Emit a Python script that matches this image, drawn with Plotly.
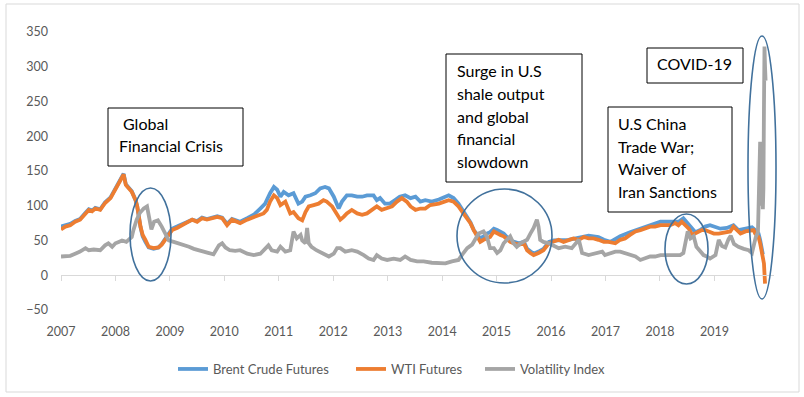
import plotly.graph_objects as go

# ---------------- data ----------------
tick_years = [2007, 2008, 2009, 2010, 2011, 2012, 2013, 2014, 2015, 2016, 2017, 2018, 2019]
tick_labels = ["2007", "2008", "2009", "2010", "2011", "2012", "2013",
               "2014", "2015", "2016", "2017", "2018", "2019"]

brent_years = [
    2007.00, 2007.08, 2007.17, 2007.26, 2007.35, 2007.45, 2007.51, 2007.57, 2007.63, 2007.72,
    2007.81, 2007.91, 2008.00, 2008.06, 2008.12, 2008.15, 2008.19, 2008.24, 2008.30, 2008.37,
    2008.40, 2008.46, 2008.50, 2008.55, 2008.61, 2008.70, 2008.79, 2008.85, 2008.92, 2008.98,
    2009.04, 2009.13, 2009.22, 2009.31, 2009.41, 2009.50, 2009.59, 2009.68, 2009.77, 2009.87,
    2009.96, 2010.05, 2010.14, 2010.23, 2010.29, 2010.42, 2010.54, 2010.66, 2010.75, 2010.84,
    2010.91, 2010.97, 2011.03, 2011.09, 2011.18, 2011.27, 2011.36, 2011.43, 2011.49, 2011.58,
    2011.67, 2011.76, 2011.85, 2011.92, 2012.01, 2012.10, 2012.16, 2012.25, 2012.34, 2012.44,
    2012.53, 2012.62, 2012.74, 2012.80, 2012.86, 2012.95, 2013.04, 2013.13, 2013.22, 2013.32,
    2013.42, 2013.51, 2013.60, 2013.69, 2013.81, 2013.94, 2014.06, 2014.12, 2014.21, 2014.30,
    2014.39, 2014.46, 2014.52, 2014.58, 2014.64, 2014.70, 2014.76, 2014.82, 2014.88, 2014.95,
    2015.01, 2015.07, 2015.13, 2015.19, 2015.25, 2015.41, 2015.50, 2015.56, 2015.62, 2015.68,
    2015.77, 2015.86, 2015.96, 2016.05, 2016.32, 2016.60, 2016.69, 2016.87, 2016.97, 2017.09,
    2017.27, 2017.45, 2017.64, 2017.82, 2018.01, 2018.19, 2018.34, 2018.43, 2018.48, 2018.56,
    2018.65, 2018.74, 2018.83, 2018.92, 2019.02, 2019.11, 2019.23, 2019.35, 2019.44, 2019.54,
    2019.63, 2019.69, 2019.75, 2019.81, 2019.84, 2019.87, 2019.89,
]
brent_values = [
    70, 72, 74, 78, 81, 90, 95, 93, 97, 95,
    105, 112, 124, 133, 140, 146, 131, 126, 121, 108,
    99, 69, 56, 48, 40, 38, 40, 45, 53, 60,
    67, 70, 73, 76, 80, 78, 83, 81, 83, 85,
    83, 74, 81, 79, 77, 82, 87, 96, 103, 118,
    127, 123, 113, 120, 115, 118, 103, 106, 113, 115,
    118, 125, 127, 125, 113, 96, 106, 115, 115, 113,
    113, 115, 115, 108, 111, 103, 103, 108, 113, 115,
    111, 113, 106, 108, 106, 109, 113, 115, 111, 103,
    92, 84, 76, 65, 58, 53, 56, 60, 62, 67,
    65, 63, 60, 55, 50, 46, 48, 38, 34, 31,
    34, 38, 48, 50, 51, 56, 57, 55, 51, 48,
    56, 62, 67, 72, 77, 77, 77, 82, 77, 70,
    62, 65, 70, 72, 70, 67, 68, 72, 65, 67,
    68, 69, 65, 60, 51, 36, 30,
]

wti_years = [
    2007.00, 2007.08, 2007.17, 2007.26, 2007.35, 2007.45, 2007.51, 2007.57, 2007.63, 2007.72,
    2007.81, 2007.91, 2008.00, 2008.06, 2008.12, 2008.15, 2008.19, 2008.24, 2008.30, 2008.37,
    2008.40, 2008.46, 2008.50, 2008.55, 2008.61, 2008.70, 2008.79, 2008.85, 2008.92, 2008.98,
    2009.04, 2009.13, 2009.22, 2009.31, 2009.41, 2009.50, 2009.59, 2009.68, 2009.77, 2009.87,
    2009.96, 2010.05, 2010.14, 2010.23, 2010.29, 2010.42, 2010.54, 2010.63, 2010.72, 2010.78,
    2010.84, 2010.91, 2010.97, 2011.03, 2011.12, 2011.21, 2011.27, 2011.36, 2011.43, 2011.49,
    2011.55, 2011.64, 2011.73, 2011.82, 2011.88, 2011.98, 2012.07, 2012.13, 2012.19, 2012.25,
    2012.34, 2012.44, 2012.53, 2012.62, 2012.71, 2012.80, 2012.89, 2012.99, 2013.08, 2013.17,
    2013.26, 2013.35, 2013.42, 2013.51, 2013.60, 2013.69, 2013.78, 2013.94, 2014.06, 2014.12,
    2014.21, 2014.30, 2014.39, 2014.46, 2014.52, 2014.58, 2014.64, 2014.70, 2014.76, 2014.82,
    2014.88, 2014.95, 2015.01, 2015.07, 2015.13, 2015.19, 2015.25, 2015.31, 2015.41, 2015.50,
    2015.56, 2015.62, 2015.68, 2015.77, 2015.86, 2015.96, 2016.05, 2016.14, 2016.23, 2016.32,
    2016.41, 2016.51, 2016.60, 2016.69, 2016.78, 2016.87, 2016.97, 2017.06, 2017.18, 2017.27,
    2017.36, 2017.45, 2017.55, 2017.64, 2017.73, 2017.82, 2017.91, 2018.01, 2018.10, 2018.19,
    2018.28, 2018.34, 2018.40, 2018.46, 2018.53, 2018.59, 2018.65, 2018.71, 2018.77, 2018.83,
    2018.89, 2018.99, 2019.08, 2019.20, 2019.29, 2019.35, 2019.41, 2019.48, 2019.57, 2019.66,
    2019.72, 2019.75, 2019.81, 2019.84, 2019.87, 2019.89, 2019.91, 2019.93,
]
wti_values = [
    66, 70, 72, 77, 80, 89, 94, 92, 96, 94,
    104, 111, 123, 132, 139, 145, 130, 125, 120, 108,
    99, 70, 58, 51, 41, 39, 40, 44, 51, 58,
    65, 68, 72, 75, 80, 77, 82, 80, 82, 84,
    82, 72, 80, 77, 75, 80, 84, 87, 89, 94,
    106, 115, 111, 101, 106, 89, 91, 82, 79, 91,
    99, 101, 103, 108, 106, 99, 87, 80, 84, 89,
    94, 89, 87, 89, 94, 99, 94, 96, 99, 106,
    111, 106, 99, 94, 96, 96, 101, 103, 106, 108,
    106, 99, 89, 82, 75, 65, 56, 48, 51, 53,
    55, 63, 60, 58, 56, 51, 48, 46, 44, 46,
    36, 32, 29, 32, 36, 46, 48, 51, 48, 51,
    53, 51, 55, 53, 53, 51, 48, 48, 46, 51,
    53, 58, 63, 65, 68, 70, 70, 72, 72, 72,
    75, 72, 77, 72, 67, 58, 60, 63, 65, 65,
    63, 60, 60, 62, 63, 70, 65, 60, 63, 65,
    65, 60, 55, 46, 34, 22, 17, -12,
]

vix_years = [
    2007.00, 2007.08, 2007.17, 2007.26, 2007.35, 2007.45, 2007.51, 2007.60, 2007.72, 2007.81,
    2007.87, 2007.94, 2008.00, 2008.06, 2008.12, 2008.20, 2008.26, 2008.30, 2008.33, 2008.39,
    2008.45, 2008.52, 2008.58, 2008.63, 2008.66, 2008.71, 2008.78, 2008.85, 2008.91, 2008.98,
    2009.07, 2009.16, 2009.25, 2009.35, 2009.44, 2009.53, 2009.62, 2009.71, 2009.80, 2009.90,
    2009.96, 2010.02, 2010.10, 2010.20, 2010.29, 2010.42, 2010.54, 2010.66, 2010.75, 2010.81,
    2010.87, 2010.97, 2011.03, 2011.12, 2011.21, 2011.24, 2011.27, 2011.33, 2011.40, 2011.43,
    2011.49, 2011.52, 2011.55, 2011.60, 2011.69, 2011.82, 2011.92, 2012.01, 2012.07, 2012.13,
    2012.22, 2012.34, 2012.44, 2012.56, 2012.65, 2012.74, 2012.80, 2012.89, 2012.99, 2013.11,
    2013.23, 2013.32, 2013.42, 2013.54, 2013.66, 2013.81, 2013.94, 2014.06, 2014.18, 2014.30,
    2014.39, 2014.46, 2014.55, 2014.61, 2014.67, 2014.76, 2014.82, 2014.88, 2014.95, 2015.01,
    2015.07, 2015.13, 2015.19, 2015.25, 2015.31, 2015.37, 2015.44, 2015.50, 2015.56, 2015.62,
    2015.68, 2015.74, 2015.77, 2015.80, 2015.86, 2015.96, 2016.05, 2016.14, 2016.26, 2016.38,
    2016.51, 2016.57, 2016.69, 2016.81, 2016.94, 2016.99, 2017.09, 2017.18, 2017.27, 2017.36,
    2017.45, 2017.55, 2017.64, 2017.73, 2017.82, 2017.91, 2018.01, 2018.19, 2018.37, 2018.43,
    2018.48, 2018.51, 2018.56, 2018.62, 2018.67, 2018.73, 2018.80, 2018.86, 2018.92, 2019.02,
    2019.08, 2019.14, 2019.20, 2019.26, 2019.30, 2019.36, 2019.44, 2019.54, 2019.63, 2019.69,
    2019.73, 2019.76, 2019.80, 2019.82, 2019.83, 2019.84, 2019.85, 2019.86, 2019.87, 2019.88,
    2019.89, 2019.90, 2019.91, 2019.92, 2019.93, 2019.94,
]
vix_values = [
    27, 27, 28, 31, 34, 39, 36, 37, 36, 43,
    46, 41, 46, 48, 50, 48, 53, 55, 65, 80,
    90, 96, 99, 82, 66, 77, 79, 70, 60, 50,
    48, 46, 43, 41, 38, 36, 34, 31, 30, 43,
    46, 40, 36, 35, 36, 31, 29, 31, 39, 43,
    36, 34, 41, 34, 36, 54, 63, 53, 58, 50,
    46, 68, 46, 41, 36, 31, 27, 31, 39, 39,
    34, 36, 34, 29, 24, 22, 29, 24, 22, 24,
    22, 27, 22, 20, 20, 18, 17, 17, 20, 22,
    32, 39, 44, 53, 60, 63, 56, 39, 39, 32,
    36, 46, 51, 56, 46, 41, 46, 48, 51, 60,
    68, 80, 70, 51, 48, 46, 43, 39, 41, 39,
    51, 32, 29, 31, 34, 29, 32, 34, 34, 32,
    29, 27, 22, 24, 27, 27, 29, 29, 29, 32,
    51, 63, 53, 56, 41, 36, 29, 27, 24, 29,
    51, 42, 40, 52, 57, 45, 41, 38, 36, 32,
    45, 55, 62, 110, 160, 192, 140, 180, 100, 130,
    95, 125, 240, 329, 300, 280,
]

series_names = ["Brent Crude Futures", "WTI Futures", "Volatility Index"]
series_colors = ["#5B9BD5", "#ED7D31", "#A5A5A5"]

box_texts = {
    "gfc": ["Global", "Financial Crisis"],
    "shale": ["Surge in U.S", "shale output", "and global", "financial", "slowdown"],
    "covid": ["COVID-19"],
    "trade": ["U.S China", "Trade War;", "Waiver of", "Iran Sanctions"],
}

# ---------------- layout geometry (pixels of the 804x397 page) ----------------
W, H = 804, 397
ML, MR, MT, MB = 61, 30, 32, 87
PW = W - ML - MR
PH = H - MT - MB
Y_RANGE = [-50, 350]
PX_PER_YEAR = 54.45
X_RANGE = [2007, 2007 + PW / PX_PER_YEAR]


def px(x):
    return (x - ML) / PW


def py(y):
    return (H - MB - y) / PH


FONT = "Lato"
GREY_TXT = "#595959"

fig = go.Figure()
legend_ids = ["legend", "legend2", "legend3"]
for name, xs, ys, col, lg in zip(series_names,
                                 [brent_years, wti_years, vix_years],
                                 [brent_values, wti_values, vix_values],
                                 series_colors, legend_ids):
    fig.add_trace(go.Scatter(x=xs, y=ys, mode="lines", name=name, legend=lg,
                             line=dict(color=col, width=3.8)))

# invisible helper trace so the zero-level axis (ticks at y=0) is drawn
fig.add_trace(go.Scatter(x=[tick_years[0], tick_years[-1]], y=[0, 0], xaxis="x2",
                         mode="lines", line=dict(width=0, color="rgba(0,0,0,0)"),
                         hoverinfo="skip", showlegend=False))

shapes = []
# outer chart border
shapes.append(dict(type="rect", xref="paper", yref="paper",
                   x0=px(6), x1=px(799), y0=py(392), y1=py(4),
                   line=dict(color="#D9D9D9", width=1), layer="below"))
# ellipses
ELL = "#41719C"
for (x0, x1, y0, y1) in [(130, 171, 188, 281), (457, 552, 189, 283),
                         (665, 708, 214, 284), (748, 776, 36, 299)]:
    shapes.append(dict(type="circle", xref="paper", yref="paper",
                       x0=px(x0), x1=px(x1), y0=py(y1), y1=py(y0),
                       line=dict(color=ELL, width=1.6), layer="above"))
# text boxes
boxes = {"gfc": (108, 243, 108, 166), "shale": (446, 582, 54, 182),
         "covid": (647, 743, 48, 83), "trade": (608, 732, 107, 212)}
for key, (x0, x1, y0, y1) in boxes.items():
    shapes.append(dict(type="rect", xref="paper", yref="paper",
                       x0=px(x0), x1=px(x1), y0=py(y1), y1=py(y0),
                       fillcolor="white", line=dict(color="black", width=1), layer="above"))

annotations = []
text_pos = {"gfc": (117, [123.5, 145.5], [4, 0]),
            "shale": (455, [70, 93, 116, 138.5, 161], [0] * 5),
            "covid": (655, [64], [0]),
            "trade": (616, [123.5, 146, 168.5, 191.5], [0] * 4)}
for key, (tx, ys, dxs) in text_pos.items():
    for line, yy, dx in zip(box_texts[key], ys, dxs):
        annotations.append(dict(text=line, xref="paper", yref="paper",
                                x=px(tx + dx), y=py(yy), xanchor="left", yanchor="middle",
                                showarrow=False, font=dict(family=FONT, size=16, color="black")))

legend_style = dict(orientation="h", yanchor="middle", y=py(369), xanchor="left",
                    font=dict(family=FONT, size=13, color=GREY_TXT), itemwidth=30,
                    bgcolor="rgba(0,0,0,0)", borderwidth=0)

fig.update_layout(
    width=W, height=H,
    margin=dict(l=ML, r=MR, t=MT, b=MB),
    paper_bgcolor="white", plot_bgcolor="white",
    font=dict(family=FONT, color=GREY_TXT),
    showlegend=True,
    legend=dict(legend_style, x=px(173)),
    legend2=dict(legend_style, x=px(351)),
    legend3=dict(legend_style, x=px(480)),
    xaxis=dict(range=X_RANGE, showgrid=False, zeroline=False, showline=False,
               tickvals=tick_years, ticktext=tick_labels, ticks="",
               tickfont=dict(family=FONT, size=12.5, color=GREY_TXT),
               ticklabelstandoff=12),
    xaxis2=dict(range=X_RANGE, overlaying="x", anchor="free",
                position=(0 - Y_RANGE[0]) / (Y_RANGE[1] - Y_RANGE[0]),
                showgrid=False, zeroline=False, showline=True, linecolor="#D9D9D9", linewidth=1,
                tickvals=tick_years, ticks="outside", ticklen=5, tickcolor="#D9D9D9",
                showticklabels=False),
    yaxis=dict(range=Y_RANGE, dtick=50, tick0=0, showgrid=False, zeroline=False,
               showline=False, ticks="",
               tickfont=dict(family=FONT, size=12.5, color=GREY_TXT),
               ticklabelstandoff=12),
    shapes=shapes,
    annotations=annotations,
)

fig.write_html("out.html", config={"displayModeBar": False},
               post_script="document.body.style.margin='0px';document.body.style.overflow='hidden';")
